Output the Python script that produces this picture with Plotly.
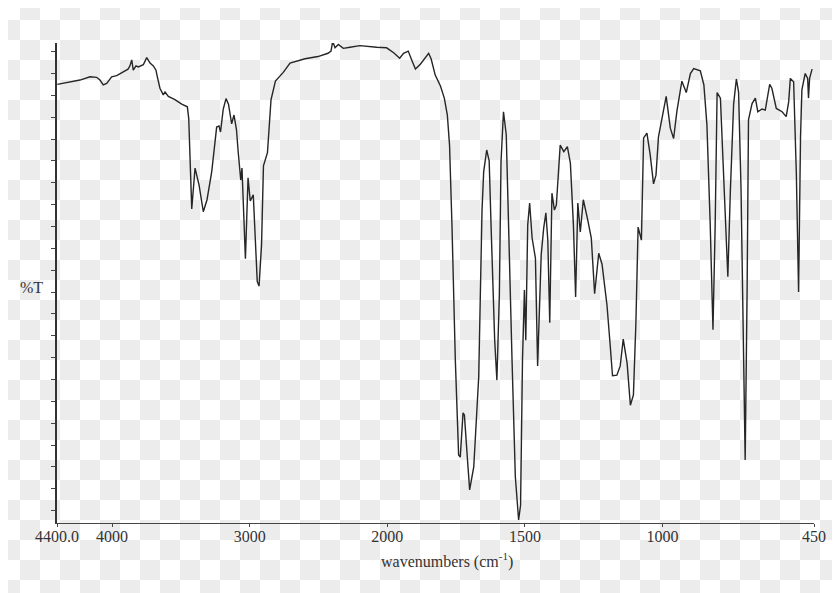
import plotly.graph_objects as go

# IR spectrum: wavenumber (cm-1) and %T
wavenumber = [4398, 4306, 4233, 4160, 4112, 4088, 4064, 4039, 4003, 3966, 3918, 3884, 3870, 3857, 3846,
              3826, 3809, 3773, 3748, 3724, 3700, 3681, 3671, 3652, 3628, 3615, 3591, 3543, 3494, 3453,
              3443, 3434, 3421, 3397, 3368, 3337, 3310, 3276, 3240, 3223, 3212, 3192, 3172, 3154, 3131,
              3114, 3096, 3083, 3065, 3056, 3031, 3012, 2996, 2974, 2962, 2945, 2932, 2914, 2900, 2871,
              2845, 2813, 2756, 2707, 2598, 2504, 2431, 2409, 2397, 2380, 2356, 2320, 2271, 2199, 2077,
              2005, 1977, 1955, 1941, 1924, 1910, 1898, 1880, 1862, 1850, 1841, 1826, 1807, 1793, 1782,
              1774, 1765, 1753, 1741, 1735, 1725, 1720, 1710, 1701, 1686, 1668, 1656, 1650, 1639, 1630,
              1623, 1616, 1610, 1602, 1593, 1587, 1578, 1568, 1559, 1547, 1535, 1523, 1516, 1509, 1502,
              1497, 1490, 1483, 1474, 1462, 1454, 1441, 1432, 1424, 1417, 1410, 1402, 1393, 1386, 1381,
              1372, 1359, 1346, 1335, 1324, 1316, 1308, 1299, 1288, 1272, 1259, 1247, 1232, 1220, 1202,
              1190, 1182, 1166, 1154, 1143, 1129, 1117, 1106, 1097, 1089, 1077, 1069, 1057, 1045, 1033,
              1024, 1015, 1002, 987, 972, 960, 948, 930, 914, 899, 887, 863, 850, 839, 827,
              817, 809, 802, 790, 778, 763, 754, 742, 732, 724, 715, 706, 700, 693, 688,
              675, 663, 654, 639, 627, 621, 611, 603, 587, 566, 551, 542, 536, 524, 514,
              506, 499, 494, 482, 473, 470, 466, 457]
transmittance = [82.0, 82.5, 82.8, 83.4, 83.3, 82.8, 81.9, 82.2, 83.4, 83.6, 84.3, 84.8, 85.4, 86.5, 84.6,
                 85.4, 85.2, 85.6, 86.9, 85.9, 85.4, 84.6, 83.4, 81.3, 80.1, 80.6, 79.8, 79.2, 78.4, 77.9,
                 75.8, 67.9, 59.2, 66.7, 63.6, 58.7, 60.9, 66.0, 74.2, 74.4, 73.3, 77.5, 79.4, 78.4, 74.8,
                 76.4, 73.7, 69.5, 64.5, 66.7, 50.1, 64.9, 60.7, 61.8, 55.0, 45.9, 45.1, 52.6, 67.1, 69.5,
                 79.2, 82.6, 84.2, 85.9, 86.7, 87.1, 87.7, 88.1, 89.9, 88.7, 89.3, 88.6, 88.8, 89.1, 88.8,
                 88.7, 87.8, 86.8, 87.7, 88.1, 86.3, 84.8, 85.7, 87.0, 87.7, 86.7, 83.7, 81.7, 79.5, 76.4,
                 70.9, 55.9, 31.6, 14.2, 13.8, 21.9, 21.5, 14.2, 7.8, 12.0, 28.5, 59.0, 66.0, 70.0, 68.0,
                 55.9, 44.9, 35.2, 27.9, 43.5, 67.8, 77.0, 72.8, 54.1, 31.6, 10.2, 2.3, 5.0, 31.6, 44.4,
                 35.2, 56.3, 60.3, 53.9, 50.2, 30.5, 50.8, 55.7, 58.5, 53.5, 38.4, 62.1, 59.0, 59.9, 63.6,
                 70.9, 69.7, 70.6, 67.6, 56.3, 43.1, 60.3, 55.0, 60.9, 57.2, 53.9, 43.7, 51.1, 49.1, 41.6,
                 34.0, 28.7, 28.8, 30.5, 35.4, 31.0, 23.3, 25.2, 38.4, 55.9, 53.5, 72.2, 73.1, 69.1, 63.8,
                 65.4, 72.4, 76.1, 79.8, 74.0, 72.1, 77.1, 82.6, 80.5, 84.0, 84.9, 84.5, 81.9, 74.6, 56.3,
                 37.1, 56.3, 80.5, 79.5, 63.6, 46.8, 62.3, 78.4, 83.0, 80.6, 62.7, 32.5, 13.3, 44.4, 75.5,
                 78.5, 79.5, 77.0, 77.5, 77.3, 79.3, 82.0, 81.3, 77.6, 77.0, 76.1, 78.8, 83.1, 82.5, 65.4,
                 44.0, 72.2, 81.0, 84.0, 83.1, 79.5, 83.1, 84.8]

tick_values = [4400, 4000, 3000, 2000, 1500, 1000, 450]
tick_labels = ["4400.0", "4000", "3000", "2000", "1500", "1000", "450"]
y_ticks = list(range(4, 89, 4))

# the page body adds an 8 px margin, so the figure is 8 px smaller and all
# positions below are page positions minus 8
OFF = 8
W, H = 840 - OFF, 593 - OFF


def scale(w):
    # spectrometer x scale: above 2000 cm-1 the axis is compressed by a factor of 2
    return w if w <= 2000 else 2000 + (w - 2000) / 2.0


fig = go.Figure()

# checkerboard backdrop (as in the picture), 20 px squares aligned to the page
cols = [20 * i + 10 - OFF for i in range(43)]
rows = [20 * j + 10 - OFF for j in range(31)]
z = [[(i + j) % 2 for i in range(len(cols))] for j in range(len(rows))]
fig.add_trace(go.Heatmap(x=cols, y=rows, z=z, colorscale=[[0, "#ffffff"], [1, "#ececec"]],
                         showscale=False, hoverinfo="skip", xaxis="x", yaxis="y", zsmooth=False))

fig.add_trace(go.Scatter(x=[scale(w) for w in wavenumber], y=transmittance, mode="lines",
                         line=dict(color="#262626", width=1.4), xaxis="x2", yaxis="y2",
                         showlegend=False))

font = "Liberation Serif, Times New Roman, serif"
x0, x1 = 57 - OFF, 814 - OFF
ytop, ybot = 43 - OFF, 523 - OFF

fig.update_layout(
    width=W, height=H,
    margin=dict(l=0, r=0, t=0, b=0, autoexpand=False),
    paper_bgcolor="white",
    plot_bgcolor="rgba(0,0,0,0)",
    showlegend=False,
    xaxis=dict(domain=[0, 1], range=[0, W], visible=False, fixedrange=True, automargin=False),
    yaxis=dict(domain=[0, 1], range=[H, 0], visible=False, fixedrange=True, automargin=False),
    xaxis2=dict(domain=[x0 / W, x1 / W], anchor="y2", automargin=False,
                range=[scale(4400), scale(450)],
                tickvals=[scale(t) for t in tick_values], ticktext=tick_labels,
                showgrid=False, zeroline=False, showline=True, linecolor="#444", linewidth=1,
                ticks="outside", ticklen=3, tickcolor="#444", ticklabelstandoff=-4,
                tickfont=dict(family=font, size=16, color="#333")),
    yaxis2=dict(domain=[(H - ybot) / H, (H - ytop) / H], anchor="x2", automargin=False,
                range=[1.75, 89.58], tickvals=y_ticks, showticklabels=False,
                showgrid=False, zeroline=False, showline=True, linecolor="#333", linewidth=1.5,
                ticks="outside", ticklen=4, tickcolor="#444"),
    annotations=[
        dict(text="%T", x=(31 - OFF) / W, y=1 - (287 - OFF) / H, xref="paper", yref="paper",
             showarrow=False, xanchor="center", yanchor="middle",
             font=dict(family=font, size=16, color="#333")),
        dict(text="wavenumbers (cm<sup>-1</sup>)", x=(447 - OFF) / W, y=1 - (560 - OFF) / H,
             xref="paper", yref="paper", showarrow=False, xanchor="center", yanchor="middle",
             font=dict(family=font, size=16, color="#333")),
    ],
)

fig.write_html("out.html")
